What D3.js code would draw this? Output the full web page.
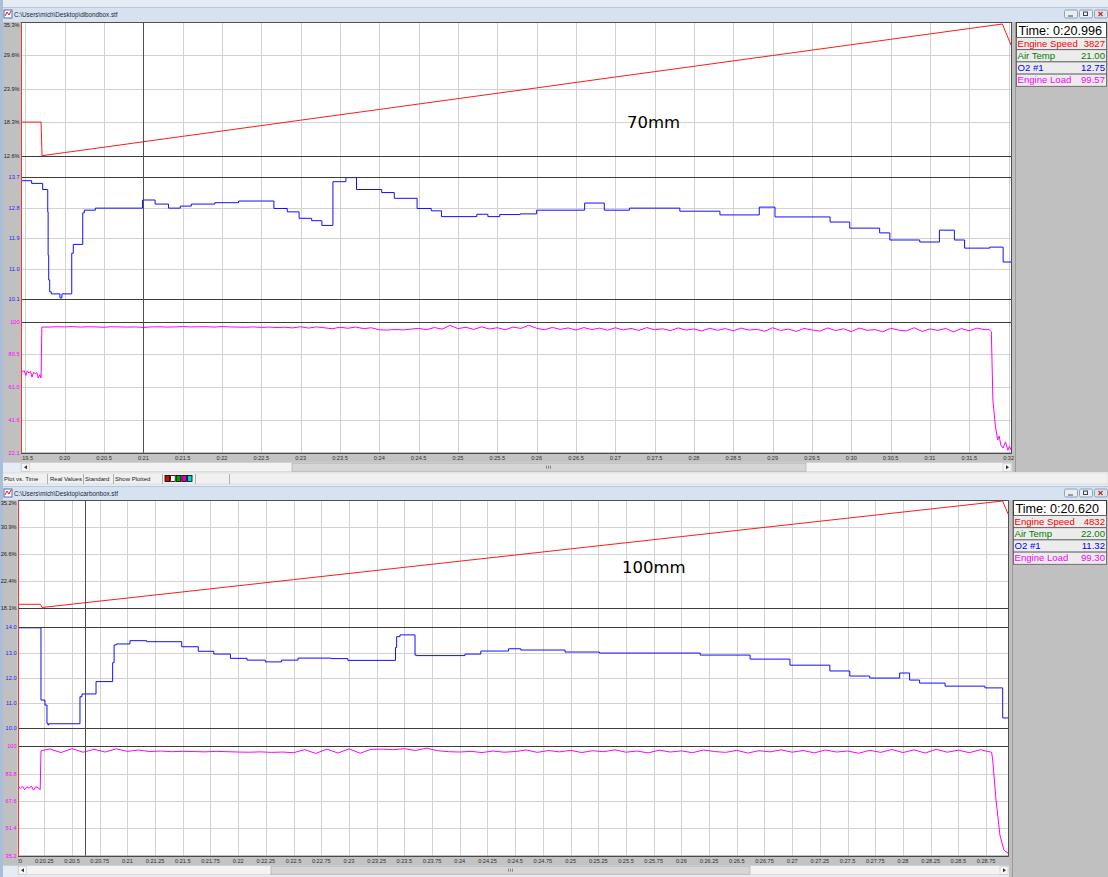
<!DOCTYPE html>
<html><head><meta charset="utf-8">
<script src="https://cdn.jsdelivr.net/npm/d3@7/dist/d3.min.js"></script>
<style>body{margin:0;background:#e4ebf3;}svg{display:block;}</style>
</head><body>
<svg id="c" width="1108" height="877"></svg>
<script>
// ================= DATA =================
const topTitle = "C:\\Users\\mich\\Desktop\\dibondbox.stf";
const botTitle = "C:\\Users\\mich\\Desktop\\carbonbox.stf";
const topTimeTicks = [19.5,20,20.5,21,21.5,22,22.5,23,23.5,24,24.5,25,25.5,26,26.5,27,27.5,28,28.5,29,29.5,30,30.5,31,31.5,32];
const botTimeTicks = [20,20.25,20.5,20.75,21,21.25,21.5,21.75,22,22.25,22.5,22.75,23,23.25,23.5,23.75,24,24.25,24.5,24.75,25,25.25,25.5,25.75,26,26.25,26.5,26.75,27,27.25,27.5,27.75,28,28.25,28.5,28.75];
const topSpeedLabels = ["35.3%","29.6%","23.9%","18.3%","12.6%"];
const topO2Labels    = ["13.7","12.8","11.9","11.0","10.1"];
const topLoadLabels  = ["100","80.5","61.0","41.6","22.1"];
const botSpeedLabels = ["35.2%","30.9%","26.6%","22.4%","18.1%"];
const botO2Labels    = ["14.0","13.0","12.0","11.0","10.0"];
const botLoadLabels  = ["100","83.8","67.6","51.4","35.2"];
const legendNames = ["Engine Speed","Air Temp","O2 #1","Engine Load"];
const topLegendValues = ["3827","21.00","12.75","99.57"];
const botLegendValues = ["4832","22.00","11.32","99.30"];
const topTimeText = "Time: 0:20.996";
const botTimeText = "Time: 0:20.620";
const topCursor = 20.996, botCursor = 20.620;
const topNote = "70mm", botNote = "100mm";

// Engine speed (rpm) vs time (s)
const topSpeed = [[19.445,4330],[19.70,4330],[19.712,3450],[20.0,3532],[20.5,3672],[21.0,3815],[21.5,3957],[22.0,4097],[22.5,4238],[23.0,4380],[23.5,4521],[24.0,4661],[24.5,4803],[25.0,4944],[25.5,5084],[26.0,5225],[26.5,5368],[27.0,5510],[27.5,5650],[28.0,5790],[28.5,5932],[29.0,6073],[29.5,6214],[30.0,6355],[30.5,6497],[31.0,6638],[31.5,6779],[31.92,6897],[32.03,6348]];
const botSpeed = [[20.013,4782],[20.215,4782],[20.229,4652],[20.5,4787],[21,5035],[21.5,5283],[22,5532],[22.5,5780],[23,6029],[23.5,6277],[24,6526],[24.5,6774],[25,7023],[25.5,7271],[26,7520],[26.5,7768],[27,8017],[27.5,8265],[28,8513],[28.5,8760],[28.9,8960],[28.948,8432]];

// O2 (stepped)
const topO2 = [[19.445,13.60],[19.58,13.52],[19.72,13.34],[19.785,12.68],[19.79,11.40],[19.797,10.67],[19.81,10.32],[19.83,10.26],[19.94,10.14],[19.965,10.26],[20.08,10.26],[20.09,11.46],[20.11,11.72],[20.23,12.65],[20.25,12.73],[20.39,12.79],[20.99,13.03],[21.15,12.91],[21.32,12.79],[21.47,12.85],[21.61,12.91],[21.91,12.95],[22.21,13.00],[22.66,12.78],[22.83,12.68],[22.98,12.49],[23.14,12.42],[23.27,12.28],[23.41,13.57],[23.575,13.69],[23.71,13.34],[24.03,13.25],[24.19,13.08],[24.48,12.78],[24.66,12.71],[24.79,12.54],[25.24,12.61],[25.38,12.54],[25.53,12.60],[25.79,12.62],[26.0,12.73],[26.61,12.94],[26.86,12.73],[27.18,12.79],[27.82,12.70],[28.33,12.59],[28.83,12.82],[29.03,12.53],[29.73,12.38],[29.98,12.20],[30.36,12.06],[30.49,11.85],[30.87,11.79],[31.12,12.14],[31.31,11.85],[31.44,11.61],[31.76,11.64],[31.93,11.20],[32.03,11.20]];
const botO2 = [[20.013,13.98],[20.22,11.12],[20.256,10.92],[20.274,10.20],[20.283,10.13],[20.29,10.18],[20.572,11.25],[20.59,11.36],[20.717,11.85],[20.867,12.60],[20.88,13.30],[20.90,13.34],[21.023,13.47],[21.174,13.43],[21.49,13.23],[21.64,13.05],[21.78,12.94],[21.93,12.77],[22.08,12.70],[22.245,12.63],[22.39,12.70],[22.54,12.78],[22.84,12.76],[22.99,12.69],[23.42,13.20],[23.43,13.63],[23.46,13.70],[23.596,12.90],[23.61,12.88],[24.047,12.94],[24.19,13.06],[24.44,13.15],[24.55,13.10],[24.95,13.02],[25.26,12.98],[26.17,12.90],[26.62,12.74],[26.98,12.50],[27.34,12.27],[27.52,12.07],[27.70,11.99],[27.97,12.19],[28.06,11.91],[28.15,11.79],[28.38,11.67],[28.74,11.60],[28.90,10.41],[28.948,10.41]];

// Engine load: start segment [t,v], sampled middle (0.1 s), end segment [t,v]
const topLoadPre = [[19.445,71.5],[19.465,70.2],[19.485,71.0],[19.505,68.0],[19.525,70.8],[19.545,69.5],[19.565,70.5],[19.585,67.0],[19.605,70.0],[19.625,69.0],[19.645,69.8],[19.665,66.5],[19.685,68.5],[19.70,66.5],[19.71,96.8]];
const topLoadMidStart = 19.8;
const topLoadMid = [96.8,97.0,96.9,97.1,96.8,97.0,96.9,96.7,97.0,96.9,
 96.8,96.9,96.6,96.9,97.0,96.8,96.9,97.1,96.9,97.0,
 97.0,96.8,97.1,96.9,96.8,96.7,96.9,96.6,96.8,96.5,
 96.7,96.3,97.0,96.2,96.9,96.4,95.8,96.7,96.1,96.8,
 95.9,96.4,95.2,95.0,95.4,95.1,95.6,96.0,95.3,96.5,
 95.6,97.8,95.9,96.7,95.4,96.9,95.7,96.4,95.2,96.8,
 96.0,97.9,96.1,95.2,96.6,95.4,96.3,95.0,96.5,95.3,
 96.2,94.9,96.4,95.1,96.0,94.8,96.5,95.2,95.8,94.7,
 96.3,95.0,95.7,94.5,96.1,94.9,95.9,94.6,96.2,95.0,
 95.5,94.3,96.4,94.8,95.6,94.2,96.0,95.1,94.4,96.3,
 94.7,95.8,94.1,96.2,94.9,95.3,94.0,96.1,95.0,94.5,
 96.4,94.2,95.7,94.8,96.0,93.9,95.9,94.6,96.2,95.2];
const topLoadEnd = [[31.75,95.5],[31.78,94.0],[31.80,53.4],[31.83,38.6],[31.86,29.7],[31.88,32.0],[31.90,26.7],[31.93,24.9],[31.96,28.5],[31.99,23.5],[32.01,26.0],[32.03,23.7]];
const botLoadPre = [[20.013,76.5],[20.033,75.0],[20.053,76.3],[20.073,74.2],[20.093,76.0],[20.113,75.2],[20.133,76.4],[20.153,74.0],[20.173,76.1],[20.193,75.5],[20.213,74.3],[20.22,97.4]];
const botLoadMidStart = 20.3;
const botLoadMid = [98.4,96.3,98.6,96.5,98.2,96.6,98.5,
 97.0,97.8,96.9,97.2,96.8,97.0,96.9,96.7,97.0,96.8,
 96.6,96.5,96.7,96.4,96.6,96.2,98.0,95.8,98.3,96.0,
 98.5,95.9,98.2,98.3,98.0,98.6,97.5,98.9,97.4,96.8,
 96.6,97.0,96.3,97.2,96.5,96.9,97.8,96.4,97.5,96.7,
 97.6,96.3,97.4,96.8,97.9,96.5,97.2,96.1,97.7,96.6,
 97.3,96.2,97.8,96.9,96.4,97.6,96.0,97.4,96.7,97.9,
 96.5,97.5,96.1,97.8,96.6,97.2,95.9,97.6,96.4,98.1,
 96.3,97.9,96.0,98.2,96.5,97.7,96.2,98.0];
const botLoadEnd = [[28.76,97.0],[28.80,96.5],[28.81,91.9],[28.84,68.2],[28.875,47.5],[28.91,38.6],[28.93,37.5],[28.948,36.8]];

// ================= DRAWING =================
const W = 1108, H = 877;
const svg = d3.select("#c");
svg.append("rect").attr("width", W).attr("height", H).attr("fill", "#e6ecf4");
svg.append("rect").attr("x",0).attr("y",0).attr("width",3).attr("height",H).attr("fill","#a9bfd9");

const LBL = "'Liberation Sans', Arial, sans-serif";
const fmtT = t => "0:" + (+t.toFixed(2));

function loadSeries(pre, start, mid, end, step) {
  return pre.concat(mid.map((v, i) => [start + i * step, v]), end);
}

function drawPane(p) {
  const g = svg.append("g");
  // title bar
  g.append("rect").attr("x", 3).attr("y", p.titleTop).attr("width", W - 3).attr("height", p.plotTop - p.titleTop)
    .attr("fill", "#d6e2f0");
  g.append("line").attr("x1", 3).attr("x2", W).attr("y1", p.titleTop + 0.5).attr("y2", p.titleTop + 0.5).attr("stroke", "#b8c8dc");
  // icon
  const ic = g.append("g").attr("transform", `translate(4,${p.titleTop + 3})`);
  ic.append("rect").attr("width", 8).attr("height", 8).attr("fill", "#fff").attr("stroke", "#3050a0").attr("stroke-width", 0.8);
  ic.append("path").attr("d", "M1,6 L3,2 L5,5 L7,1").attr("fill", "none").attr("stroke", "#d02020").attr("stroke-width", 1);
  g.append("text").attr("x", 14).attr("y", p.titleTop + 9.5).attr("font-family", LBL).attr("font-size", 6.3)
    .attr("fill", "#1a2a40").text(p.title);
  // window buttons
  const by = p.titleTop + 2.5;
  [[1064, "#e9eef5"], [1079, "#e9eef5"], [1094, "#e8e0e0"]].forEach(([bx, f], i) => {
    g.append("rect").attr("x", bx + 0.5).attr("y", by + 0.5).attr("width", 13).attr("height", 8).attr("rx", 1.5)
      .attr("fill", f).attr("stroke", "#8fa2ba");
    if (i === 0) g.append("line").attr("x1", bx + 4).attr("x2", bx + 9).attr("y1", by + 6.5).attr("y2", by + 6.5).attr("stroke", "#444");
    if (i === 1) g.append("rect").attr("x", bx + 4.5).attr("y", by + 2.5).attr("width", 4).attr("height", 3.5).attr("fill", "none").attr("stroke", "#444");
    if (i === 2) g.append("path").attr("d", `M${bx+4.5},${by+2.5}L${bx+8.5},${by+6.5}M${bx+8.5},${by+2.5}L${bx+4.5},${by+6.5}`).attr("stroke", "#b03030").attr("stroke-width", 1.2);
  });

  // grey frame areas
  g.append("rect").attr("x", 3).attr("y", p.plotTop).attr("width", p.plotLeft - 3).attr("height", p.axisY - p.plotTop + 10).attr("fill", "#c0c0c0");
  g.append("rect").attr("x", p.plotLeft).attr("y", p.axisY).attr("width", p.plotRight - p.plotLeft + 2).attr("height", 10).attr("fill", "#c3c3c3");
  g.append("rect").attr("x", p.plotRight + 1).attr("y", p.plotTop).attr("width", W - p.plotRight - 1).attr("height", p.panelBottom - p.plotTop).attr("fill", "#c0c0c0");
  g.append("line").attr("x1", p.plotRight + 4.5).attr("x2", p.plotRight + 4.5).attr("y1", p.plotTop).attr("y2", p.panelBottom).attr("stroke", "#9a9a9a");
  // plot background
  g.append("rect").attr("x", p.plotLeft).attr("y", p.plotTop).attr("width", p.plotRight - p.plotLeft).attr("height", p.axisY - p.plotTop).attr("fill", "#fff");

  const x = d3.scaleLinear().domain(p.tDomain).range([p.plotLeft, p.plotRight]);
  const clipId = "clip" + p.id;
  svg.append("clipPath").attr("id", clipId).append("rect").attr("x", p.plotLeft).attr("y", p.plotTop).attr("width", p.plotRight - p.plotLeft).attr("height", p.axisY - p.plotTop);
  const clipL = "clipl" + p.id;
  svg.append("clipPath").attr("id", clipL).append("rect").attr("x", p.plotLeft).attr("y", p.axisY).attr("width", p.plotRight - p.plotLeft + 3).attr("height", 10);

  // vertical gridlines
  g.append("g").selectAll("line").data(p.ticks).join("line")
    .attr("x1", d => Math.round(x(d)) + 0.5).attr("x2", d => Math.round(x(d)) + 0.5)
    .attr("y1", p.plotTop).attr("y2", p.axisY).attr("stroke", "#d2d2d2");

  const plotG = g.append("g").attr("clip-path", `url(#${clipId})`);
  const ruleG = g.append("g");
  p.subs.forEach(s => {
    const y = d3.scaleLinear().domain(s.domain).range([s.bottom, s.top]);
    const tv = d3.range(5).map(i => s.domain[0] + i * (s.domain[1] - s.domain[0]) / 4);
    tv.forEach((v, i) => {
      const yy = Math.round(y(v)) + 0.5;
      const edge = (i === 0 || i === 4);
      if (!edge) plotG.append("line").attr("x1", p.plotLeft).attr("x2", p.plotRight).attr("y1", yy).attr("y2", yy).attr("stroke", "#d2d2d2");
      else ruleG.append("line").attr("x1", p.plotLeft).attr("x2", p.plotRight).attr("y1", yy).attr("y2", yy).attr("stroke", "#3c3c3c");
      let ty = y(v) + 2;
      if (i === 4 && s.first) ty = y(v) + 5;
      g.append("text").attr("x", p.plotLeft - 1.5).attr("y", ty).attr("text-anchor", "end")
        .attr("font-family", LBL).attr("font-size", 5.6).attr("fill", s.labelColor)
        .text(s.labels[4 - i]);
    });
    const line = d3.line().x(d => x(d[0])).y(d => y(d[1]));
    if (s.step) line.curve(d3.curveStepAfter);
    plotG.append("path").datum(s.data).attr("d", line).attr("fill", "none")
      .attr("stroke", s.color).attr("stroke-width", s.width || 1);
  });
  g.node().appendChild(ruleG.node());

  // cursor
  const cx = Math.round(x(p.cursor)) + 0.5;
  g.append("line").attr("x1", cx).attr("x2", cx).attr("y1", p.plotTop).attr("y2", p.axisY).attr("stroke", "#505050");
  // borders
  g.append("line").attr("x1", p.plotLeft + 0.5).attr("x2", p.plotLeft + 0.5).attr("y1", p.plotTop).attr("y2", p.axisY).attr("stroke", "#ff3030");
  g.append("line").attr("x1", p.plotRight + 0.5).attr("x2", p.plotRight + 0.5).attr("y1", p.plotTop).attr("y2", p.axisY + 1).attr("stroke", "#505050");
  g.append("line").attr("x1", p.plotLeft).attr("x2", p.plotRight + 1).attr("y1", p.plotTop + 0.5).attr("y2", p.plotTop + 0.5).attr("stroke", "#505050");
  g.append("line").attr("x1", p.plotLeft).attr("x2", p.plotRight + 1).attr("y1", p.axisY + 0.5).attr("y2", p.axisY + 0.5).attr("stroke", "#505050");

  // x labels
  g.append("g").attr("clip-path", `url(#${clipL})`).selectAll("text").data(p.ticks).join("text")
    .attr("x", d => x(d)).attr("y", p.axisY + 7).attr("text-anchor", "middle")
    .attr("font-family", LBL).attr("font-size", 5.6).attr("fill", "#303030").text(fmtT);

  // scrollbar
  const sy = p.axisY + 10;
  g.append("rect").attr("x", p.plotLeft).attr("y", sy).attr("width", p.plotRight - p.plotLeft + 1).attr("height", 9).attr("fill", "#f3f3f3").attr("stroke", "#c8c8c8").attr("stroke-width", 0.5);
  g.append("rect").attr("x", p.thumb[0]).attr("y", sy + 0.5).attr("width", p.thumb[1] - p.thumb[0]).attr("height", 8).attr("fill", "#d6d6d6").attr("stroke", "#a8a8a8").attr("stroke-width", 0.6);
  if (p.grip) [0, 2, 4].forEach(o => g.append("line").attr("x1", p.grip + o + 0.5).attr("x2", p.grip + o + 0.5).attr("y1", sy + 3).attr("y2", sy + 6).attr("stroke", "#606060").attr("stroke-width", 0.7));
  g.append("rect").attr("x", p.plotLeft + 0.5).attr("y", sy + 0.5).attr("width", 8).attr("height", 8).attr("fill", "#f6f6f6").attr("stroke", "#bcbcbc").attr("stroke-width", 0.5);
  g.append("path").attr("d", `M${p.plotLeft+3},${sy+4.5}L${p.plotLeft+6},${sy+2.5}L${p.plotLeft+6},${sy+6.5}Z`).attr("fill", "#333");
  g.append("rect").attr("x", p.plotRight - 8).attr("y", sy + 0.5).attr("width", 8).attr("height", 8).attr("fill", "#f6f6f6").attr("stroke", "#bcbcbc").attr("stroke-width", 0.5);
  g.append("path").attr("d", `M${p.plotRight-2},${sy+4.5}L${p.plotRight-5},${sy+2.5}L${p.plotRight-5},${sy+6.5}Z`).attr("fill", "#333");

  // legend
  const lx = p.plotRight + 5, lw = W - lx - 2;
  const ly = p.plotTop + 0.5;
  g.append("rect").attr("x", lx + 0.5).attr("y", ly).attr("width", lw).attr("height", 15).attr("fill", "#fff").attr("stroke", "#404040");
  g.append("text").attr("x", lx + 2.5).attr("y", ly + 12).attr("font-family", LBL).attr("font-size", 12.6).attr("fill", "#000").text(p.timeText);
  const colors = ["#ff0000", "#008000", "#0000ff", "#ff00ff"];
  const rh = 12.2;
  legendNames.forEach((n, i) => {
    const ry = ly + 15 + i * rh;
    g.append("rect").attr("x", lx + 0.5).attr("y", ry).attr("width", lw).attr("height", rh).attr("fill", "#ececec").attr("stroke", "#5a5a5a").attr("stroke-width", 0.8);
    g.append("text").attr("x", lx + 1.5).attr("y", ry + 9.3).attr("font-family", LBL).attr("font-size", 9.6).attr("fill", colors[i]).text(n);
    g.append("text").attr("x", lx + lw - 1).attr("y", ry + 9.3).attr("text-anchor", "end").attr("font-family", LBL).attr("font-size", 9.6).attr("fill", colors[i]).text(p.values[i]);
  });

  // annotation
  g.append("text").attr("x", p.note[0]).attr("y", p.note[1]).attr("font-family", "'DejaVu Sans', sans-serif").attr("font-size", 16.5).attr("fill", "#000").text(p.noteText);
}

drawPane({
  id: "t", title: topTitle, titleTop: 7, plotTop: 22, axisY: 452.7, plotLeft: 21, plotRight: 1011, panelBottom: 472,
  tDomain: [19.445, 32.03], ticks: topTimeTicks, cursor: topCursor, thumb: [292, 806], grip: 546,
  timeText: topTimeText, values: topLegendValues, note: [627, 128], noteText: topNote,
  subs: [
    { domain: [3450, 6950], top: 22, bottom: 155.7, labels: topSpeedLabels, labelColor: "#202020", data: topSpeed, color: "#ff1a1a", first: true },
    { domain: [10.1, 13.7], top: 177.3, bottom: 299.3, labels: topO2Labels, labelColor: "#2020ff", data: topO2, color: "#1010ff", step: true },
    { domain: [22.1, 100], top: 321.7, bottom: 452.7, labels: topLoadLabels, labelColor: "#ff00ff", data: loadSeries(topLoadPre, topLoadMidStart, topLoadMid, topLoadEnd, 0.1), color: "#ff00ff" }
  ]
});

// status bar
const sb = svg.append("g");
sb.append("rect").attr("x", 3).attr("y", 473).attr("width", W - 3).attr("height", 11).attr("fill", "#f0f0f0").attr("stroke", "#d0d0d0").attr("stroke-width", 0.5);
[["Plot vs. Time", 4], ["Real Values", 50], ["Standard", 85], ["Show Plotted", 115]].forEach(([t, xx]) =>
  sb.append("text").attr("x", xx).attr("y", 481).attr("font-family", LBL).attr("font-size", 6).attr("fill", "#202020").text(t));
[47, 83, 113, 162, 195, 229].forEach(xx => sb.append("line").attr("x1", xx + 0.5).attr("x2", xx + 0.5).attr("y1", 474).attr("y2", 484).attr("stroke", "#b0b0b0"));
["#e00000", "#ffffff", "#00a000", "#d000d0", "#00d0d0"].forEach((c, i) =>
  sb.append("rect").attr("x", 165 + i * 5.6).attr("y", 475.5).attr("width", 4.6).attr("height", 6).attr("fill", c).attr("stroke", "#000").attr("stroke-width", 0.8));

drawPane({
  id: "b", title: botTitle, titleTop: 486, plotTop: 500, axisY: 855.7, plotLeft: 18, plotRight: 1008, panelBottom: 877,
  tDomain: [20.0126, 28.948], ticks: botTimeTicks, cursor: botCursor, thumb: [271, 750], grip: 508,
  timeText: botTimeText, values: botLegendValues, note: [622, 573], noteText: botNote,
  subs: [
    { domain: [4620, 9000], top: 500, bottom: 608.3, labels: botSpeedLabels, labelColor: "#202020", data: botSpeed, color: "#ff1a1a", first: true },
    { domain: [10, 14], top: 627.3, bottom: 728.3, labels: botO2Labels, labelColor: "#2020ff", data: botO2, color: "#1010ff", step: true },
    { domain: [35.2, 100], top: 746.3, bottom: 855.7, labels: botLoadLabels, labelColor: "#ff00ff", data: loadSeries(botLoadPre, botLoadMidStart, botLoadMid, botLoadEnd, 0.1), color: "#ff00ff" }
  ]
});
</script>
</body></html>
